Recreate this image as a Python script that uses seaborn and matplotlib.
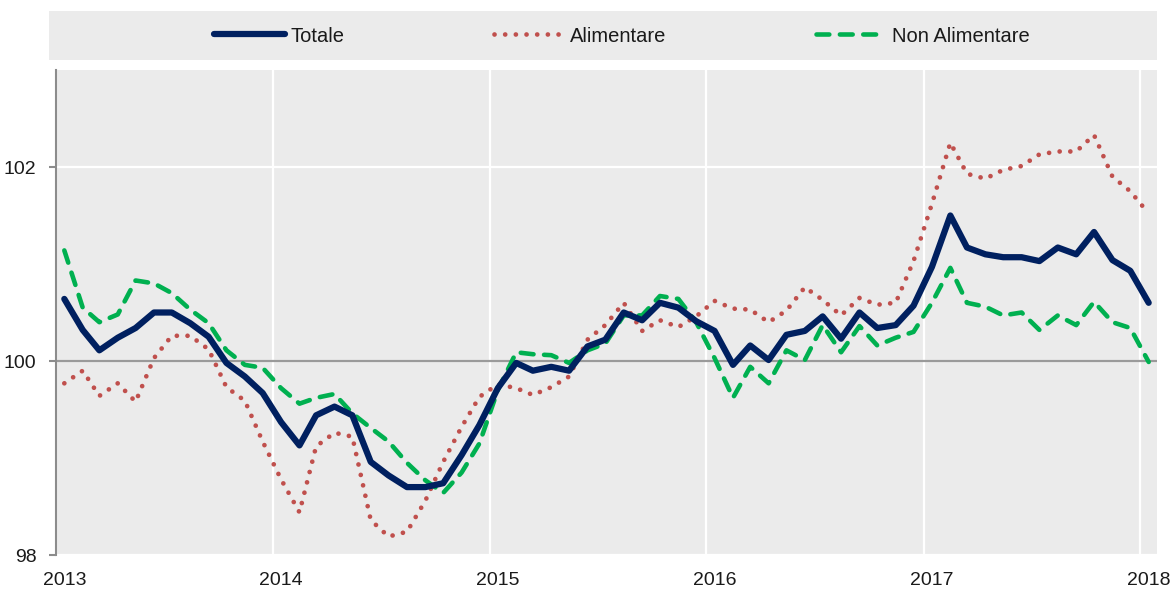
import matplotlib
matplotlib.use('Agg')
import matplotlib.pyplot as plt
import seaborn as sns
import pandas as pd
from matplotlib.patches import Rectangle

# monthly index values, Jan 2013 - Jan 2018
months = pd.date_range('2013-01-01', '2018-01-01', freq='MS') + pd.Timedelta(days=14)

totale = [
    100.64, 100.32, 100.11, 100.24, 100.34, 100.50, 100.50, 100.39, 100.25, 99.98, 99.84, 99.67,
    99.37, 99.13, 99.44, 99.53, 99.44, 98.96, 98.82, 98.70, 98.70, 98.74, 99.03, 99.34,
    99.72, 99.98, 99.90, 99.94, 99.90, 100.15, 100.22, 100.50, 100.42, 100.60, 100.55, 100.41,
    100.31, 99.96, 100.16, 100.01, 100.27, 100.31, 100.46, 100.23, 100.50, 100.34, 100.37, 100.57,
    100.97, 101.50, 101.17, 101.10, 101.07, 101.07, 101.03, 101.17, 101.10, 101.33, 101.04, 100.93,
    100.60,
]

alimentare = [
    99.77, 99.90, 99.64, 99.77, 99.58, 100.03, 100.26, 100.26, 100.12, 99.73, 99.59, 99.17,
    98.78, 98.44, 99.12, 99.26, 99.22, 98.36, 98.19, 98.24, 98.56, 98.96, 99.32, 99.63,
    99.76, 99.72, 99.65, 99.73, 99.84, 100.22, 100.37, 100.60, 100.31, 100.42, 100.35, 100.46,
    100.62, 100.54, 100.53, 100.40, 100.52, 100.76, 100.63, 100.47, 100.65, 100.58, 100.60, 101.03,
    101.62, 102.25, 101.93, 101.88, 101.97, 102.01, 102.13, 102.16, 102.16, 102.33, 101.90, 101.75,
    101.52,
]

non_alimentare = [
    101.14, 100.55, 100.40, 100.48, 100.83, 100.80, 100.70, 100.53, 100.39, 100.11, 99.96, 99.93,
    99.72, 99.56, 99.62, 99.66, 99.46, 99.31, 99.17, 98.95, 98.77, 98.64, 98.85, 99.15,
    99.70, 100.09, 100.07, 100.06, 99.98, 100.11, 100.18, 100.47, 100.47, 100.67, 100.64, 100.40,
    100.03, 99.62, 99.94, 99.77, 100.11, 100.01, 100.37, 100.09, 100.36, 100.16, 100.24, 100.30,
    100.60, 100.96, 100.60, 100.56, 100.47, 100.50, 100.32, 100.47, 100.37, 100.61, 100.40, 100.34,
    99.99,
]

years = ['2013', '2014', '2015', '2016', '2017', '2018']
y_ticks = [98, 100, 102]

df = pd.DataFrame({
    'Data': months,
    'Totale': totale,
    'Alimentare': alimentare,
    'Non Alimentare': non_alimentare,
})

sns.set_style('darkgrid', {'axes.facecolor': '#ebebeb', 'grid.color': 'white',
                           'text.color': '#1a1a1a', 'xtick.color': '#1a1a1a',
                           'ytick.color': '#1a1a1a'})
plt.rcParams['font.family'] = ['Liberation Sans', 'DejaVu Sans']

fig = plt.figure(figsize=(11.75, 5.92), dpi=100)
ax = fig.add_axes([56 / 1175, 1 - 555 / 592, 1101 / 1175, 485 / 592])

# legend band
fig.add_artist(Rectangle((49 / 1175, 1 - 60 / 592), 1108 / 1175, 49 / 592,
                         transform=fig.transFigure, facecolor='#ebebeb',
                         edgecolor='none', zorder=0))

ax.axhline(100, color='#9a9a9a', lw=1.6, zorder=1)

sns.lineplot(data=df, x='Data', y='Totale', ax=ax, color='#002060',
             lw=4.5, label='Totale', zorder=4)
sns.lineplot(data=df, x='Data', y='Alimentare', ax=ax, color='#c0504d',
             lw=3.4, linestyle=(0, (0.01, 2.25)), dash_capstyle='round',
             label='Alimentare', zorder=2)
sns.lineplot(data=df, x='Data', y='Non Alimentare', ax=ax, color='#00b050',
             lw=3.3, linestyle=(0, (2.8, 2.3)), dash_capstyle='round',
             label='Non Alimentare', zorder=3)

ax.set_xlim(pd.Timestamp('2013-01-01'), pd.Timestamp('2018-01-29'))
ax.set_ylim(98, 103)

year_starts = pd.to_datetime([y + '-01-01' for y in years])
year_mid_jan = pd.to_datetime([y + '-01-15' for y in years])
ax.set_xticks(year_starts, labels=[''] * len(years))
ax.set_xticks(year_mid_jan, labels=years, minor=True)
ax.set_yticks(y_ticks)
ax.set_yticklabels([str(v) for v in y_ticks])

ax.grid(True, which='major', color='white', lw=1.6)
ax.grid(False, which='minor')
ax.tick_params(axis='x', which='both', length=0, pad=12, labelsize=14)
ax.tick_params(axis='y', left=True, length=5, width=1.5, color='#8c8c8c',
               pad=9, labelsize=14)

for side in ['top', 'right', 'bottom']:
    ax.spines[side].set_visible(False)
ax.spines['left'].set_color('#8c8c8c')
ax.spines['left'].set_linewidth(1.5)

ax.set_xlabel('')
ax.set_ylabel('')

handles, labels = ax.get_legend_handles_labels()
ax.legend_.remove()
fig.legend(handles, labels, loc='center left', bbox_to_anchor=(204 / 1175, 1 - 36 / 592),
           ncol=3, frameon=False, fontsize=14.5, handlelength=3.5, borderpad=0,
           handletextpad=0.3, columnspacing=7.4)

fig.savefig('out.png', dpi=100)
plt.close(fig)
